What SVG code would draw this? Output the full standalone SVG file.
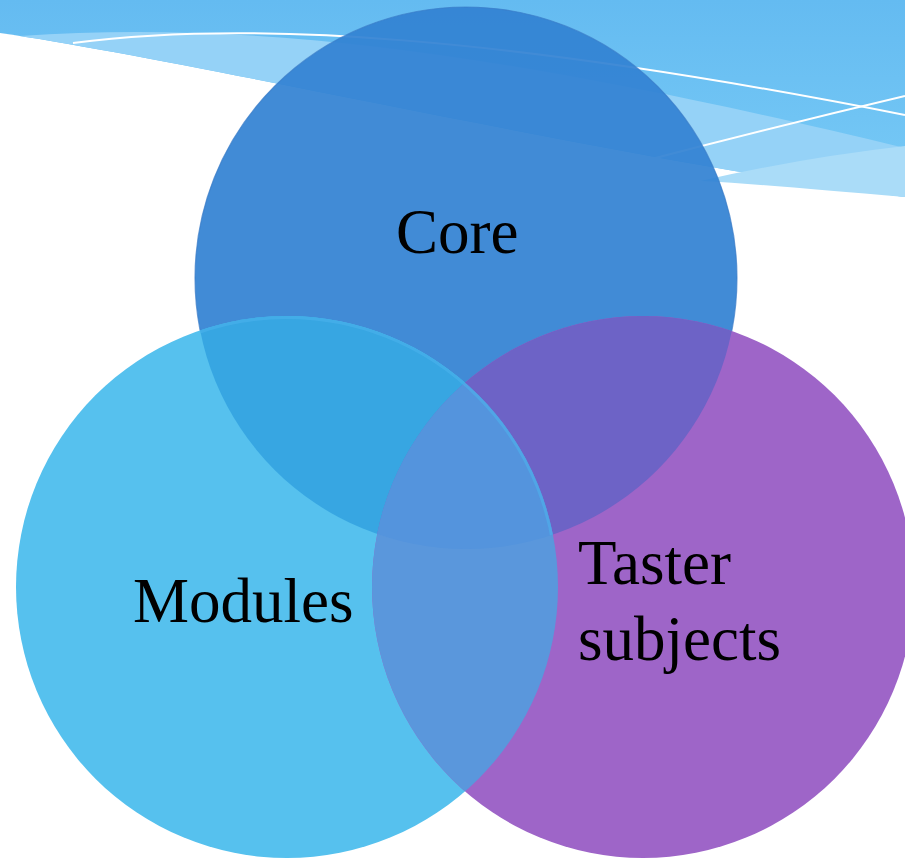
<svg xmlns="http://www.w3.org/2000/svg" width="905" height="859" viewBox="0 0 905 859">
  <style>
    .label { font-family: "Liberation Serif", "Times New Roman", serif; font-size: 63px; fill: #000000; }
    .wline { fill: none; stroke: #ffffff; stroke-width: 2; }
  </style>
  <defs>
    <linearGradient id="waveGrad" x1="0" y1="0" x2="0" y2="1">
      <stop offset="0" stop-color="#64bbf1"/>
      <stop offset="1" stop-color="#78caf6"/>
    </linearGradient>
    <clipPath id="clipCore"><circle cx="466" cy="278" r="271"/></clipPath>
    <clipPath id="clipModules"><circle cx="287" cy="587" r="271"/></clipPath>
  </defs>
  <rect x="0" y="0" width="905" height="859" fill="#ffffff"/>

  <!-- decorative wave header -->
  <g id="wave">
    <path d="M0,0 H905 V197 C620,160 200,62 0,33 Z" fill="url(#waveGrad)"/>
    <path d="M20,36 C250,20 500,50 905,148 V197 C620,160 200,62 0,33 Z" fill="#95d2f7"/>
    <path d="M700,181 Q800,158 905,146 V197 C820,190 760,184 700,181 Z" fill="#aadcf8"/>
    <path class="wline" d="M73,43 C250,20 500,35 905,115"/>
    <path class="wline" d="M905,96 Q770,128 640,162"/>
  </g>

  <g id="core">
    <circle cx="466" cy="278" r="271" fill="#3382d3" fill-opacity="0.93" stroke="#3a7cc8" stroke-width="1.2" stroke-opacity="0.7"/>
    <text class="label" x="396" y="253">Core</text>
  </g>

  <g id="modules">
    <circle cx="287" cy="587" r="271" fill="#56c1ee"/>
    <text class="label" x="133" y="622">Modules</text>
  </g>

  <g id="taster">
    <circle cx="643" cy="587" r="271" fill="#9e65c8"/>
    <text class="label" x="578" y="584">Taster</text>
    <text class="label" x="578" y="660">subjects</text>
  </g>

  <g id="overlaps">
    <circle cx="287" cy="587" r="271" fill="#37a6e2" clip-path="url(#clipCore)"/>
    <circle cx="643" cy="587" r="271" fill="#6d63c6" clip-path="url(#clipCore)"/>
    <circle cx="643" cy="587" r="271" fill="#5a97dc" clip-path="url(#clipModules)"/>
    <g clip-path="url(#clipCore)">
      <circle cx="643" cy="587" r="271" fill="#5494dd" clip-path="url(#clipModules)"/>
    </g>
    <circle cx="287" cy="587" r="269.5" fill="none" stroke="#4cb2ec" stroke-width="3" stroke-opacity="0.55" clip-path="url(#clipCore)"/>
  </g>
</svg>
